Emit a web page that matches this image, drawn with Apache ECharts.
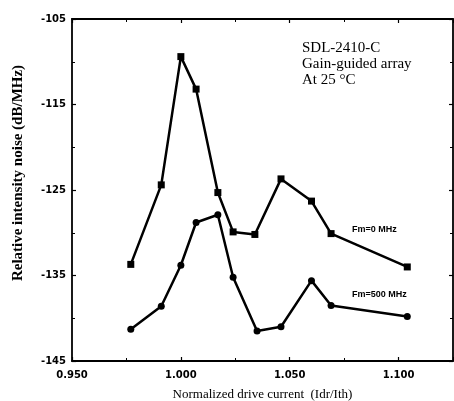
<!DOCTYPE html>
<html>
<head>
<meta charset="utf-8">
<script src="https://cdn.jsdelivr.net/npm/echarts@6/dist/echarts.min.js"></script>
<style>
  html, body { margin: 0; padding: 0; background: #fff; }
  #chart { width: 454px; height: 401px; }
</style>
</head>
<body>
<div id="chart"></div>
<script>
// normalized drive current (Idr/Ith)
const current = [0.977, 0.991, 1.000, 1.007, 1.017, 1.024, 1.034, 1.046, 1.060, 1.069, 1.104];
const current500 = [0.977, 0.991, 1.000, 1.007, 1.017, 1.024, 1.035, 1.046, 1.060, 1.069, 1.104];
// relative intensity noise, dB/MHz
const rinFm0 = [-133.7, -124.4, -109.4, -113.2, -125.3, -129.9, -130.2, -123.7, -126.3, -130.1, -134.0];
const rinFm500 = [-141.3, -138.6, -133.8, -128.8, -127.9, -135.2, -141.5, -141.0, -135.6, -138.5, -139.8];

const xTicks = [0.950, 1.000, 1.050, 1.100];
const yTicks = [-145, -135, -125, -115, -105];

const chart = echarts.init(document.getElementById('chart'));

const pairs = (xs, ys) => xs.map((x, i) => [x, ys[i]]);

const tickFont = { fontFamily: 'DejaVu Sans', fontWeight: 'bold', fontSize: 10, color: '#000' };
const lineStyle = { color: '#000', width: 1.8 };

const xBase = {
  type: 'value',
  min: 0.95,
  max: 1.125,
  interval: 0.05,
  axisLine: { show: true, lineStyle: lineStyle },
  axisTick: { show: true, inside: true, length: 4, lineStyle: { color: '#000', width: 1.2 } },
  minorTick: { show: true, splitNumber: 2, length: 3, lineStyle: { color: '#000' } },
  splitLine: { show: false }
};

const yBase = {
  type: 'value',
  min: -145,
  max: -105,
  interval: 10,
  axisLine: { show: true, lineStyle: lineStyle },
  axisTick: { show: true, inside: true, length: 4, lineStyle: { color: '#000', width: 1.2 } },
  minorTick: { show: true, splitNumber: 2, length: 3, lineStyle: { color: '#000' } },
  splitLine: { show: false }
};

chart.setOption({
  animation: false,
  backgroundColor: '#fff',
  grid: { left: 72, top: 19, right: 1, bottom: 40, outerBoundsMode: 'none', containLabel: false },
  xAxis: [
    Object.assign({}, xBase, {
      position: 'bottom',
      axisLabel: Object.assign({}, tickFont, {
        margin: 9,
        formatter: v => xTicks.some(t => Math.abs(t - v) < 1e-6) ? v.toFixed(3) : ''
      }),
      name: 'Normalized drive current  (Idr/Ith)',
      nameLocation: 'middle',
      nameGap: 27,
      nameTextStyle: { fontFamily: 'Liberation Serif', fontSize: 13, color: '#000' }
    }),
    Object.assign({}, xBase, { position: 'top', axisLabel: { show: false } })
  ],
  yAxis: [
    Object.assign({}, yBase, {
      position: 'left',
      axisLabel: Object.assign({}, tickFont, {
        margin: 6,
        formatter: v => yTicks.includes(v) ? String(v) : ''
      })
    }),
    Object.assign({}, yBase, { position: 'right', axisLabel: { show: false } })
  ],
  graphic: [
    {
      type: 'text',
      x: 18, y: 173,
      rotation: Math.PI / 2,
      style: {
        text: 'Relative intensity noise (dB/MHz)',
        font: 'bold 15px "Liberation Serif"',
        fill: '#000',
        align: 'center',
        verticalAlign: 'middle'
      }
    },
    {
      type: 'text',
      left: 302, top: 40,
      style: {
        text: 'SDL-2410-C\nGain-guided array\nAt 25 \u00b0C',
        font: '15px "Liberation Serif"',
        lineHeight: 16,
        fill: '#000'
      }
    },
    {
      type: 'text',
      left: 352, top: 225,
      style: { text: 'Fm=0 MHz', font: 'bold 9px "Liberation Sans"', fill: '#000' }
    },
    {
      type: 'text',
      left: 352, top: 290,
      style: { text: 'Fm=500 MHz', font: 'bold 9px "Liberation Sans"', fill: '#000' }
    }
  ],
  series: [
    {
      name: 'Fm=0 MHz',
      type: 'line',
      data: pairs(current, rinFm0),
      symbol: 'rect',
      symbolSize: 7,
      lineStyle: { color: '#000', width: 2.5 },
      itemStyle: { color: '#000' }
    },
    {
      name: 'Fm=500 MHz',
      type: 'line',
      data: pairs(current500, rinFm500),
      symbol: 'circle',
      symbolSize: 7,
      lineStyle: { color: '#000', width: 2.5 },
      itemStyle: { color: '#000' }
    }
  ]
});
</script>
</body>
</html>
